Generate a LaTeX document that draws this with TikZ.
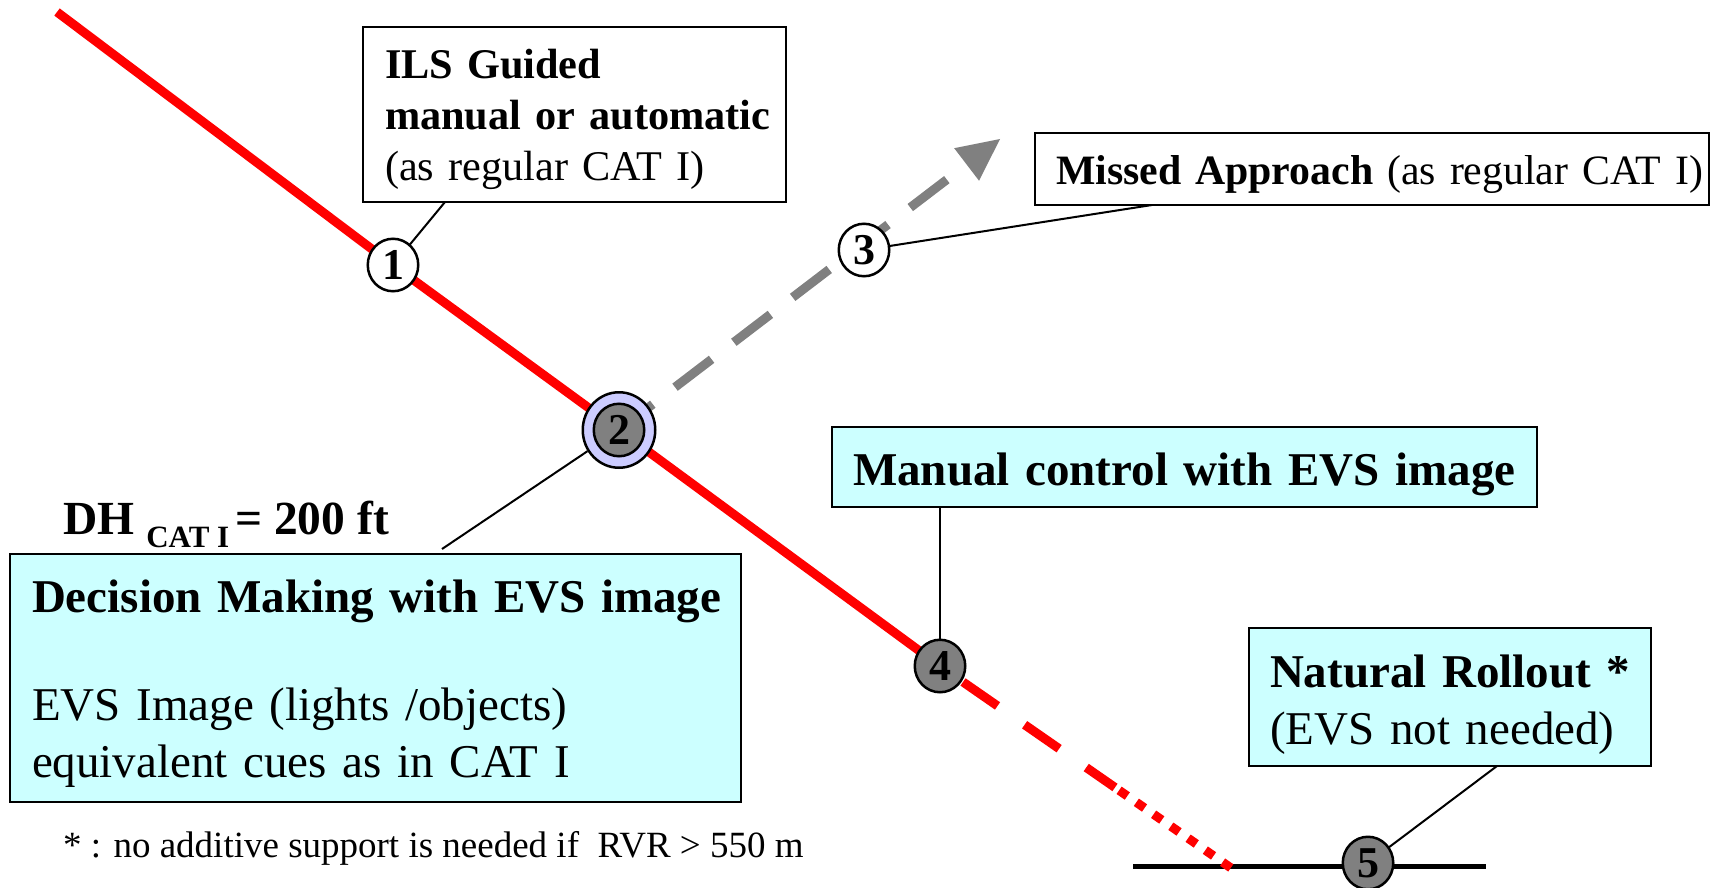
\documentclass[tikz,border=0pt]{standalone}
\usepackage{fontspec}
\setmainfont{Liberation Serif}
\usetikzlibrary{arrows.meta,shapes.geometric,calc}
\definecolor{boxcyan}{HTML}{CCFFFF}
\definecolor{ringlav}{HTML}{CCCCFF}
\definecolor{markgray}{HTML}{808080}
\definecolor{pathred}{HTML}{FF0000}
\begin{document}
\begin{tikzpicture}[x=1pt,y=-1pt,
  callout/.style={draw=black, line width=2.5pt, anchor=north west,
    inner sep=0pt, outer sep=0pt, align=left},
  whitebox/.style={callout, fill=white},
  cyanbox/.style={callout, fill=boxcyan},
  midfont/.style={font=\fontsize{42.3}{51}\selectfont},
  bigfont/.style={font=\fontsize{47}{57}\selectfont},
  marker/.style={ellipse, draw=black, line width=2.5pt, minimum width=50.5pt,
    minimum height=52.5pt, inner sep=0pt, outer sep=0pt,
    font=\fontsize{44}{44}\selectfont\bfseries},
  openmark/.style={marker, fill=white},
  graymark/.style={marker, fill=markgray},
  leader/.style={draw=black, line width=2pt},
  approach/.style={draw=pathred, line width=9pt},
  missed/.style={draw=markgray, line width=9pt, dash pattern=on 46pt off 28pt,
    dash phase=3.5pt, -{Triangle[length=42pt,width=41pt,line width=0pt]}},
  flare/.style={draw=pathred, line width=9pt, dash pattern=on 42pt off 33pt, dash phase=47pt},
  touchdown/.style={draw=pathred, line width=9pt, dash pattern=on 10pt off 11pt},
  runway/.style={draw=black, line width=5pt}
]
\useasboundingbox (0,0) rectangle (1715,888);

% fixed points of the flight path
\coordinate (entry) at (57,12);
\coordinate (gotip) at (1000,139);
\coordinate (touch) at (1231,868);
\coordinate (rwyA) at (1133,866);
\coordinate (rwyB) at (1486,866);

% callout boxes
\node[whitebox, midfont, text width=423pt, text height=52pt, text depth=123pt] (ils) at (363,27)
  {\leftskip=22pt {\bfseries ILS Guided\\ manual or automatic}\\ (as regular CAT I)\par};
\node[whitebox, font=\fontsize{41.8}{51}\selectfont, text width=674pt, text height=51pt, text depth=21pt] (miss) at (1035,133)
  {\leftskip=21pt \mbox{{\bfseries Missed Approach} (as regular CAT I)}\par};
\node[cyanbox, bigfont, text width=705pt, text height=58pt, text depth=22pt] (manual) at (832,427)
  {\leftskip=21pt \bfseries Manual control with EVS image\par};
\node[cyanbox, bigfont, text width=731pt, text height=58pt, text depth=190pt] (decide) at (10,554)
  {\leftskip=22pt {\bfseries Decision Making with EVS image}\\[51pt]
   EVS Image (lights /objects)\\ equivalent cues as in CAT I\par};
\node[cyanbox, bigfont, text width=402pt, text height=59pt, text depth=79pt] (rollout) at (1249,628)
  {\leftskip=21pt {\bfseries Natural Rollout *}\\ (EVS not needed)\par};

% free labels
\node[anchor=base west, inner sep=0pt, font=\fontsize{47.5}{48}\selectfont\bfseries] (dh) at (63,534)
  {DH \raisebox{-13pt}{\fontsize{31}{31}\selectfont CAT I}\hspace{6pt}= 200 ft};
\node[anchor=base west, inner sep=0pt, font=\fontsize{37}{37}\selectfont] (note) at (63,857)
  {* : no additive support is needed if~ RVR > 550 m};

% marker positions
\coordinate (p1) at (393,265);
\coordinate (p2) at (619,430);
\coordinate (p3) at (864,250);
\coordinate (p4) at (940,666);
\coordinate (p5) at (1368,863);

% runway
\draw[runway] (rwyA) -- (rwyB);

% approach path
\draw[approach] (entry) -- (p1) -- (p2) -- (p4);
\draw[flare] (p4) -- ($(p4)!213pt!(touch)$);
\draw[touchdown] ($(p4)!218pt!(touch)$) -- (touch);

% missed approach branch
\draw[missed] (p2) -- (gotip);

% numbered markers
\node[openmark] (m1) at (p1) {1};
\node[ellipse, draw=black, line width=2.5pt, fill=ringlav, minimum width=72.5pt,
  minimum height=75.5pt, inner sep=0pt] (ring2) at (p2) {};
\node[graymark] (m2) at (p2) {2};
\node[openmark] (m3) at (p3) {3};
\node[graymark] (m4) at (p4) {4};
\node[graymark] (m5) at (p5) {5};

% leader lines
\draw[leader] ($(ils.south west)+(82,0)$) -- (m1);
\draw[leader] ($(miss.south west)+(117,0)$) -- (m3);
\draw[leader] ($(decide.north west)+(432,-5)$) -- (ring2);
\draw[leader] (m4.north) -- (m4.north |- manual.south);
\draw[leader] ($(rollout.south west)+(248,0)$) -- (m5);
\end{tikzpicture}
\end{document}
